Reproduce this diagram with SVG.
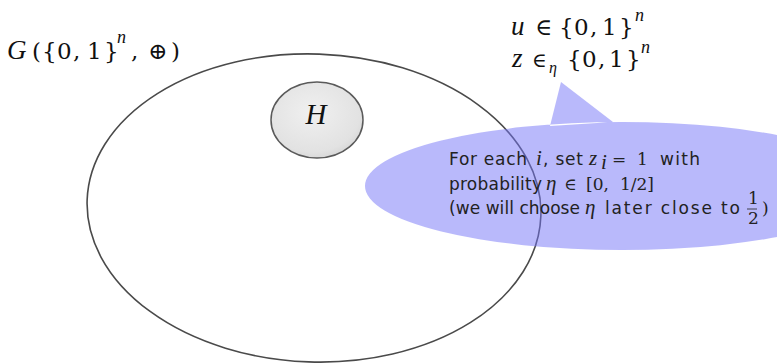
<svg xmlns="http://www.w3.org/2000/svg" width="777" height="364" viewBox="0 0 777 364">
<defs>
<radialGradient id="hg" cx="0.45" cy="0.4" r="0.65">
<stop offset="0" stop-color="#f0f0f0"/>
<stop offset="0.8" stop-color="#e2e2e2"/>
<stop offset="1" stop-color="#d4d4d4"/>
</radialGradient>
<style>
.m{font-family:"DejaVu Serif","Liberation Serif",serif;fill:#111}
.mi{font-family:"Liberation Serif","DejaVu Serif",serif;font-style:italic;fill:#111}
.big{font-size:23px}
.bigi{font-size:27px}
.sup{font-size:18px}
.s{font-family:"DejaVu Sans","Liberation Sans",sans-serif;font-size:17px;fill:#222}
.cm{font-family:"DejaVu Serif","Liberation Serif",serif;font-size:17px;fill:#222}
.cmi{font-family:"Liberation Serif","DejaVu Serif",serif;font-style:italic;font-size:21px;fill:#222}
</style>
</defs>
<rect width="777" height="364" fill="#ffffff"/>

<g id="group-G">
<ellipse cx="314" cy="208" rx="227" ry="154" fill="none" stroke="#4a4a4a" stroke-width="1.6" transform="rotate(2 314 208)"/>
</g>

<g id="label-G">
<text class="mi bigi" x="7" y="59">G</text>
<text class="m big" x="32" y="59">(</text>
<text class="m big" x="42" y="59">{</text>
<text class="m big" x="57" y="59">0</text>
<text class="m big" x="73" y="59">,</text>
<text class="m big" x="87" y="59">1</text>
<text class="m big" x="104" y="59">}</text>
<text class="mi sup" x="117" y="43">n</text>
<text class="m big" x="131" y="59">,</text>
<text class="m big" x="148" y="59">⊕</text>
<text class="m big" x="171" y="59">)</text>
</g>

<g id="node-H">
<ellipse cx="317" cy="120" rx="46" ry="38" fill="url(#hg)" stroke="#5a5a5a" stroke-width="1.5"/>
<text class="mi" font-size="29" x="316" y="124" text-anchor="middle">H</text>
</g>

<g id="label-uz">
<text class="mi bigi" x="511" y="35">u</text>
<text class="m big" x="535" y="35">∈</text>
<text class="m big" x="559" y="35">{</text>
<text class="m big" x="574" y="35">0</text>
<text class="m big" x="590" y="35">,</text>
<text class="m big" x="602" y="35">1</text>
<text class="m big" x="619" y="35">}</text>
<text class="mi sup" x="635" y="21">n</text>
<text class="mi bigi" x="512" y="67">z</text>
<text class="m" font-size="20" x="532" y="67">∈</text>
<text class="mi" font-size="16" x="549" y="73">η</text>
<text class="m big" x="567" y="67">{</text>
<text class="m big" x="582" y="67">0</text>
<text class="m big" x="598" y="67">,</text>
<text class="m big" x="609" y="67">1</text>
<text class="m big" x="626" y="67">}</text>
<text class="mi sup" x="641" y="53">n</text>
</g>

<g id="connectors"></g>

<g id="callout">
<g opacity="0.5" fill="#7373f8">
<path d="M365,186 A257,64 0 1,0 879,186 A257,64 0 1,0 365,186 Z M550,126 L561,82 L613,122 Z"/>
</g>
<text class="s" x="449" y="165" textLength="78" lengthAdjust="spacing">For each</text>
<text class="cmi" x="536" y="165">i</text>
<text class="s" x="543" y="165" textLength="40" lengthAdjust="spacing">, set</text>
<text class="cmi" x="589" y="165">z</text>
<text class="cmi" font-size="14" x="601" y="169">i</text>
<text class="cm" x="612" y="165">=</text>
<text class="cm" x="637" y="165">1</text>
<text class="s" x="660" y="165" textLength="40" lengthAdjust="spacing">with</text>
<text class="s" x="449" y="190" textLength="93" lengthAdjust="spacing">probability</text>
<text class="cmi" x="546" y="190">η</text>
<text class="cm" x="564" y="190">∈</text>
<text class="cm" x="586" y="190">[0,</text>
<text class="cm" x="620" y="190">1/2]</text>
<text class="s" x="449" y="214" textLength="131" lengthAdjust="spacing">(we will choose</text>
<text class="cmi" x="585" y="214">η</text>
<text class="s" x="605" y="214" textLength="135" lengthAdjust="spacing">later close to</text>
<text class="cm" font-size="12" x="748" y="204">1</text>
<line x1="747" y1="209" x2="757" y2="209" stroke="#222" stroke-width="0.8"/>
<text class="cm" font-size="12" x="748" y="224">2</text>
<text class="cm" x="762" y="214">)</text>
</g>
</svg>
